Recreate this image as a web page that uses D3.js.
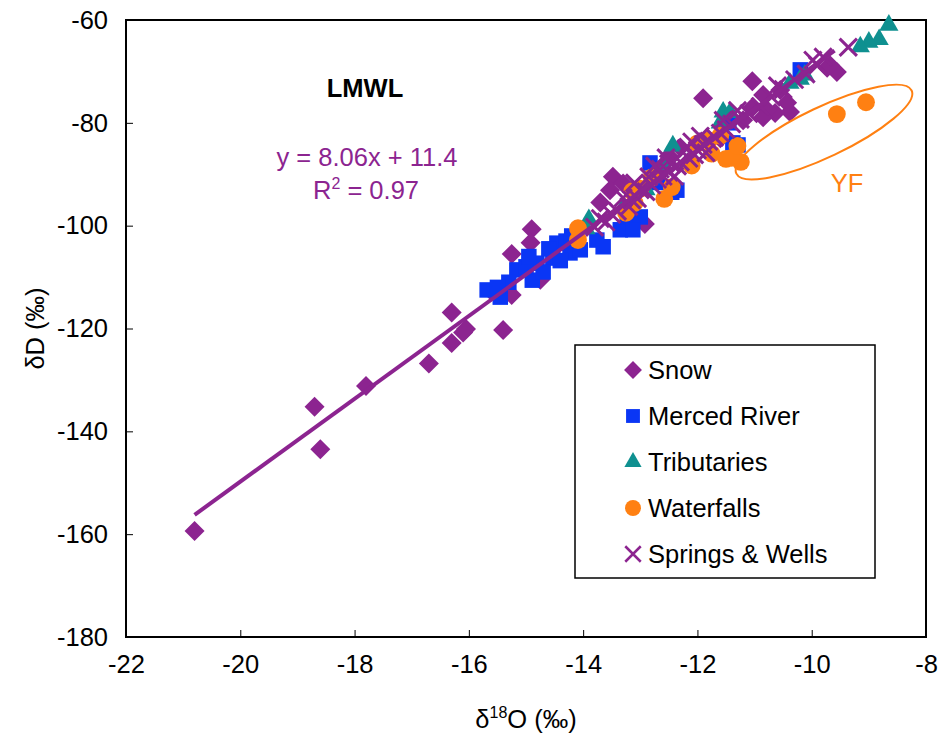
<html>
<head>
    <script src="https://cdn.jsdelivr.net/npm/d3@7/dist/d3.min.js" charset="utf-8"></script>
    <style>
        body { margin: 0; background: #fff; }
        text { font-family: "Liberation Sans", Arial, sans-serif; }
    </style>
</head>

<body>
    <script type="text/javascript">
        // data: [d18O, dD]
        var snow = [[-20.8,-159.4],[-18.7,-135.2],[-18.6,-143.5],[-17.8,-131.2],[-16.7,-126.8],
            [-16.3,-122.8],[-16.3,-116.9],[-16.1,-120.8],[-16.05,-120.1],[-15.4,-120.3],[-15.25,-113.5],
            [-15.6,-112.8],[-15.25,-105.5],[-14.9,-100.7],[-14.92,-103.3],[-14.75,-110.5],
            [-13.48,-90.5],[-13.53,-93.1],[-13.7,-95.5],[-13.3,-91.8],[-12.92,-99.7],[-13.1,-98.2],
            [-12.5,-86.5],[-12.3,-84.8],[-11.9,-75.2],[-11.04,-71.9],[-10.85,-74.6],[-10.55,-73.6],
            [-10.43,-76.1],[-10.64,-78.1],[-11.03,-76.9],[-10.38,-77.9],[-10.78,-77.5],[-10.85,-78.9],
            [-9.73,-69.3],[-9.56,-70.1],[-9.68,-68.8],[-11.2,-79.5],[-11.6,-83.0]];
        var merced = [[-15.68,-112.5],[-15.45,-113.9],[-15.16,-108.6],[-14.89,-110.6],[-14.81,-107.3],
            [-14.46,-103.4],[-14.23,-105.3],[-14.53,-106.3],[-14.05,-104.7],[-13.76,-102.8],[-13.65,-104.1],
            [-13.35,-100.8],[-13.23,-98.3],[-13.13,-97.0],[-14.7,-109.0],[-15.0,-108.0],[-14.3,-103.0],
            [-14.6,-104.5],[-14.4,-106.8],[-14.95,-106.0],[-15.3,-111.0],[-14.2,-102.0],[-15.5,-112.0],
            [-12.83,-87.8],[-12.36,-93.1],[-13.0,-98.3],[-13.13,-100.8],[-12.7,-91.6],[-12.45,-93.5],
            [-11.38,-83.9],[-11.29,-84.3],[-11.45,-80.0],[-10.2,-69.7]];
        var tributaries = [[-8.65,-61.0],[-8.82,-63.8],[-9.0,-64.3],[-9.15,-65.2],[-10.12,-70.7],
            [-10.2,-71.5],[-10.38,-72.3],[-11.55,-77.9],[-11.43,-78.0],[-11.6,-80.0],[-12.43,-84.5],
            [-12.18,-88.0],[-12.6,-88.5],[-13.9,-98.8],[-13.95,-100.6],[-12.9,-93.0],[-13.3,-96.5]];
        var waterfalls = [[-9.56,-78.3],[-9.05,-76.0],[-11.24,-87.6],[-14.09,-100.5],[-14.09,-102.8],
            [-13.14,-93.3],[-13.0,-92.8],[-13.25,-97.5],[-12.58,-94.8],[-12.1,-88.3],[-11.75,-86.0],
            [-11.5,-87.0],[-11.4,-86.8],[-11.8,-83.4],[-12.0,-84.0],[-11.6,-82.5],[-12.8,-90.6],
            [-13.1,-95.6],[-12.45,-92.5],[-11.3,-84.5]];
        var springs = [[-9.36,-65.3],[-9.98,-67.8],[-9.8,-67.2],[-9.9,-68.8],[-10.1,-70.5],[-10.3,-71.6],
            [-10.5,-73.5],[-10.7,-75.0],[-10.9,-76.8],[-11.1,-78.2],[-11.25,-79.3],[-11.4,-80.2],
            [-11.5,-81.3],[-11.6,-82.0],[-11.7,-82.8],[-11.8,-83.6],[-11.9,-84.2],[-12.0,-85.3],
            [-12.05,-86.2],[-12.15,-86.9],[-12.2,-85.0],[-12.3,-87.6],[-12.35,-88.4],[-12.45,-88.0],
            [-12.5,-89.6],[-12.6,-90.4],[-12.65,-89.0],[-12.7,-91.0],[-12.8,-92.1],[-12.85,-90.5],
            [-12.9,-93.4],[-13.0,-93.0],[-13.05,-94.7],[-13.15,-95.0],[-13.2,-96.3],[-13.3,-94.6],
            [-13.4,-97.2],[-13.5,-97.8],[-13.6,-99.3],[-13.7,-98.6],[-13.8,-100.3],[-12.55,-86.8],
            [-12.1,-83.7],[-11.95,-82.6],[-11.3,-77.6],[-10.6,-72.8],[-12.75,-88.4],[-13.1,-91.7],
            [-12.4,-90.4],[-11.85,-85.8],[-11.55,-79.5]];

        var xTicks = [-22, -20, -18, -16, -14, -12, -10, -8];
        var yTicks = [-180, -160, -140, -120, -100, -80, -60];

        // LMWL regression
        var slope = 8.06, intercept = 11.4;
        var fitRange = [-20.8, -9.6];

        var series = [
            { name: "Snow", data: snow, color: "#8c2490", shape: "diamond" },
            { name: "Merced River", data: merced, color: "#0a36f5", shape: "square" },
            { name: "Tributaries", data: tributaries, color: "#0f9090", shape: "triangle" },
            { name: "Waterfalls", data: waterfalls, color: "#ff8012", shape: "circle" },
            { name: "Springs & Wells", data: springs, color: "#8c2490", shape: "cross" }
        ];

        var fs = 25.5;
        var width = 940, height = 734;
        var margin = { left: 126, top: 20, right: 14, bottom: 97 };
        var w = width - margin.left - margin.right;
        var h = height - margin.top - margin.bottom;

        var svg = d3.select("body").append("svg")
            .attr("width", width)
            .attr("height", height);

        var g = svg.append("g")
            .attr("transform", "translate(" + margin.left + "," + margin.top + ")");

        var x = d3.scaleLinear().domain([-22, -8]).range([0, w]);
        var y = d3.scaleLinear().domain([-180, -60]).range([h, 0]);

        // custom marker shapes
        var crossType = {
            draw: function(ctx, size) {
                var r = Math.sqrt(size) / 2;
                ctx.moveTo(-r, -r); ctx.lineTo(r, r);
                ctx.moveTo(-r, r); ctx.lineTo(r, -r);
            }
        };
        var diamondType = {
            draw: function(ctx, size) {
                var r = Math.sqrt(size / 2);
                ctx.moveTo(0, -r); ctx.lineTo(r, 0); ctx.lineTo(0, r); ctx.lineTo(-r, 0); ctx.closePath();
            }
        };
        function symbolFor(shape, scale) {
            var sizes = { diamond: 200, square: 240, triangle: 160, circle: 250, cross: 300 };
            var types = { diamond: diamondType, square: d3.symbolSquare, triangle: d3.symbolTriangle,
                circle: d3.symbolCircle, cross: crossType };
            return d3.symbol().type(types[shape]).size(sizes[shape] * (scale || 1));
        }

        // axes, ticks pointing inside
        g.append("g")
            .attr("transform", "translate(0," + h + ")")
            .call(d3.axisBottom(x).tickValues(xTicks).tickSizeInner(-7).tickSizeOuter(0).tickPadding(18).tickFormat(d => d))
            .call(a => a.select(".domain").remove())
            .call(a => a.selectAll("line").attr("stroke", "#000").attr("stroke-width", 1))
            .call(a => a.selectAll("text").attr("font-size", fs).attr("fill", "#000")
                .style("font-family", "'Liberation Sans', Arial, sans-serif"));

        g.append("g")
            .call(d3.axisLeft(y).tickValues(yTicks).tickSizeInner(-7).tickSizeOuter(0).tickPadding(18).tickFormat(d => d))
            .call(a => a.select(".domain").remove())
            .call(a => a.selectAll("line").attr("stroke", "#000").attr("stroke-width", 1))
            .call(a => a.selectAll("text").attr("font-size", fs).attr("fill", "#000")
                .style("font-family", "'Liberation Sans', Arial, sans-serif"));

        // plot frame
        g.append("rect")
            .attr("width", w)
            .attr("height", h)
            .attr("fill", "none")
            .attr("stroke", "#000")
            .attr("stroke-width", 2);

        // points
        series.forEach(function(s) {
            var sym = symbolFor(s.shape);
            g.append("g")
                .selectAll("path")
                .data(s.data)
                .join("path")
                    .attr("transform", d => "translate(" + x(d[0]) + "," + y(d[1]) + ")")
                    .attr("d", sym)
                    .attr("fill", s.shape == "cross" ? "none" : s.color)
                    .attr("stroke", s.shape == "cross" ? s.color : "none")
                    .attr("stroke-width", 3);
        });

        // trendline
        var line = d3.line().x(d => x(d)).y(d => y(slope * d + intercept));
        g.append("path")
            .attr("d", line(fitRange))
            .attr("fill", "none")
            .attr("stroke", "#8c2490")
            .attr("stroke-width", 4);

        // YF ellipse
        var yfCenter = [-9.785, -81.8];
        g.append("ellipse")
            .attr("transform", "translate(" + x(yfCenter[0]) + "," + y(yfCenter[1]) + ") rotate(-25.4)")
            .attr("rx", 97)
            .attr("ry", 25)
            .attr("fill", "none")
            .attr("stroke", "#ff8012")
            .attr("stroke-width", 2);
        g.append("text")
            .attr("x", x(-9.38))
            .attr("y", y(-93.4))
            .attr("text-anchor", "middle")
            .attr("font-size", fs)
            .attr("fill", "#ff8012")
            .text("YF");

        // LMWL labels
        g.append("text")
            .attr("x", 365 - margin.left)
            .attr("y", 97 - margin.top)
            .attr("text-anchor", "middle")
            .attr("font-size", fs)
            .attr("font-weight", "bold")
            .text("LMWL");
        g.append("text")
            .attr("x", 367 - margin.left)
            .attr("y", 166 - margin.top)
            .attr("text-anchor", "middle")
            .attr("font-size", fs)
            .attr("fill", "#8c2490")
            .text("y = 8.06x + 11.4");
        var r2 = g.append("text")
            .attr("x", 366 - margin.left)
            .attr("y", 199 - margin.top)
            .attr("text-anchor", "middle")
            .attr("font-size", fs)
            .attr("fill", "#8c2490");
        r2.append("tspan").text("R");
        r2.append("tspan").attr("font-size", 16).attr("dy", -10).text("2");
        r2.append("tspan").attr("dy", 10).text(" = 0.97");

        // legend
        var legend = svg.append("g").attr("transform", "translate(575,345)");
        legend.append("rect")
            .attr("width", 300)
            .attr("height", 233)
            .attr("fill", "#fff")
            .attr("stroke", "#000")
            .attr("stroke-width", 1.5);
        series.forEach(function(s, i) {
            var row = legend.append("g").attr("transform", "translate(0," + (25 + i * 46) + ")");
            row.append("path")
                .attr("transform", "translate(58,0)")
                .attr("d", symbolFor(s.shape, 0.8))
                .attr("fill", s.shape == "cross" ? "none" : s.color)
                .attr("stroke", s.shape == "cross" ? s.color : "none")
                .attr("stroke-width", 2.5);
            row.append("text")
                .attr("x", 73)
                .attr("y", 9)
                .attr("font-size", fs)
                .text(s.name);
        });

        // axis titles
        var xt = svg.append("text")
            .attr("x", margin.left + w / 2)
            .attr("y", 728)
            .attr("text-anchor", "middle")
            .attr("font-size", fs);
        xt.append("tspan").text("δ");
        xt.append("tspan").attr("font-size", 16).attr("dy", -10).text("18");
        xt.append("tspan").attr("dy", 10).text("O (‰)");

        svg.append("text")
            .attr("transform", "translate(44," + (margin.top + h / 2) + ") rotate(-90)")
            .attr("text-anchor", "middle")
            .attr("font-size", fs)
            .text("δD (‰)");
    </script>
</body>

</html>
